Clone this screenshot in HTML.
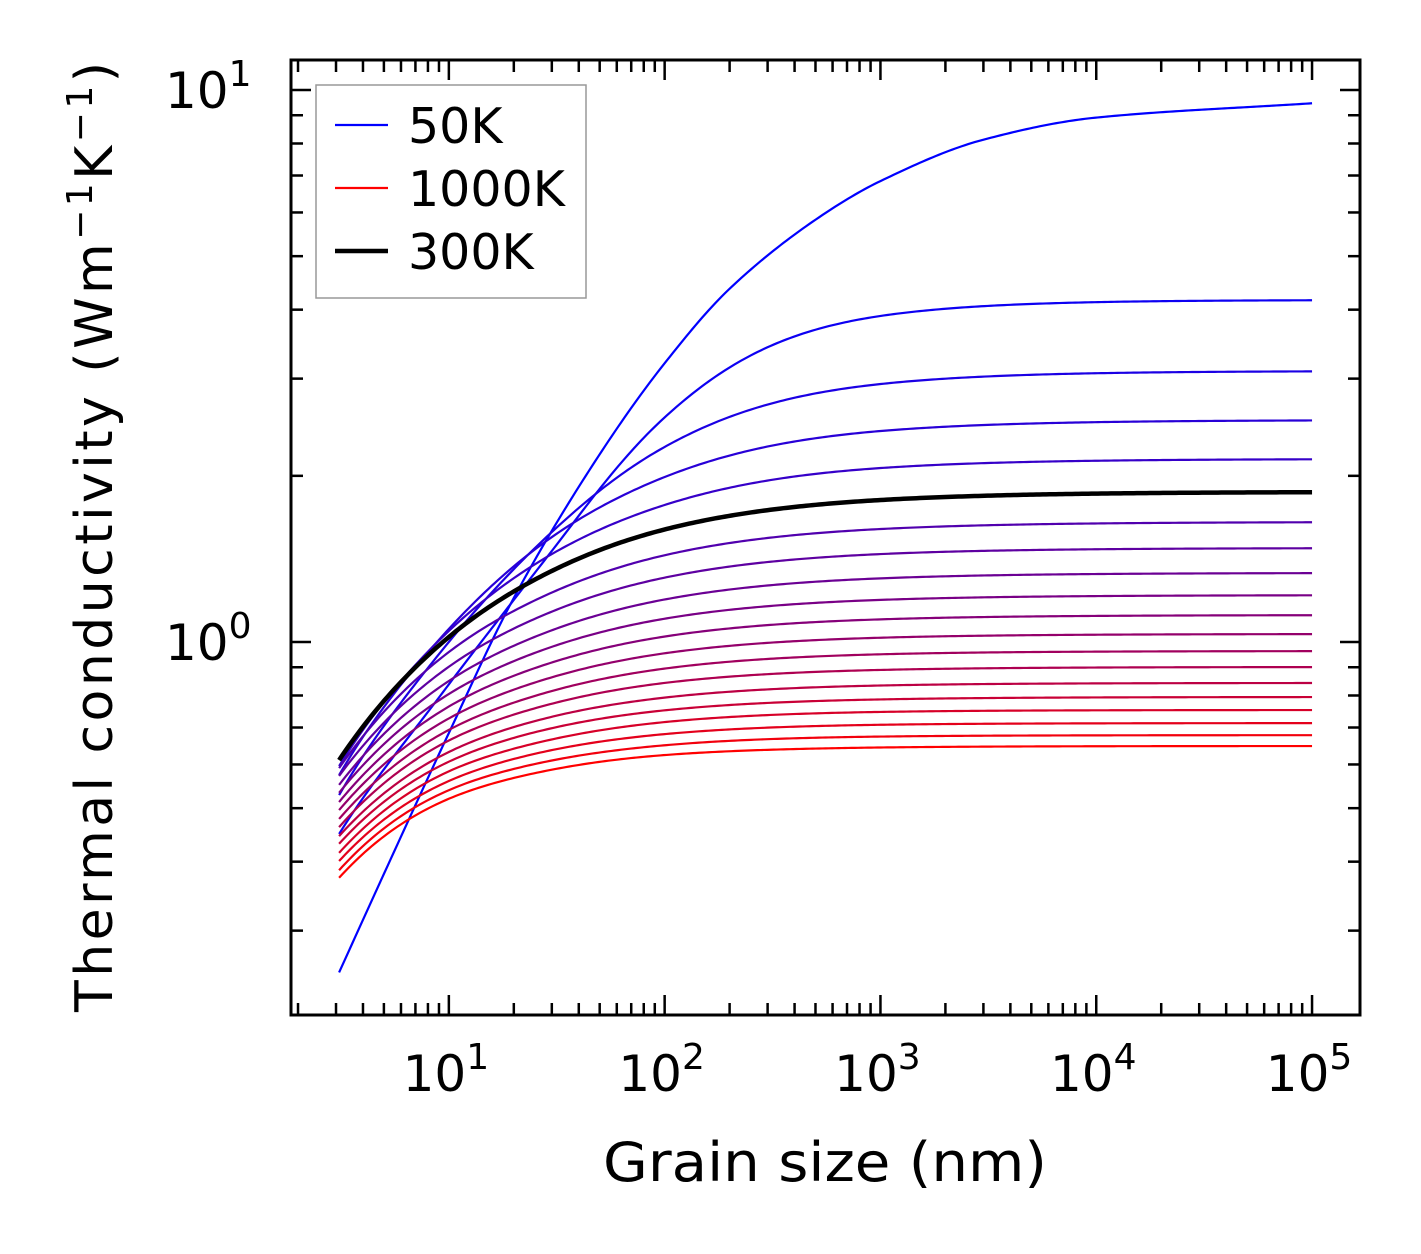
<!DOCTYPE html>
<html><head><meta charset="utf-8"><style>
html,body{margin:0;padding:0;background:#fff;}
svg{display:block;font-family:"DejaVu Sans","Liberation Sans",sans-serif;}
</style></head><body>
<svg id="chart" width="1421" height="1254" viewBox="0 0 1421 1254" xmlns="http://www.w3.org/2000/svg">
<g id="curves"></g>
<g id="axes"></g>
<g id="legend">
<rect x="316" y="85" width="270" height="213" fill="#fff" stroke="#999" stroke-width="1.5"/>
<g><line x1="335" y1="125" x2="388" y2="125" stroke="#0000ff" stroke-width="2.2"/><text x="408" y="143" font-size="49">50K</text></g>
<g><line x1="335" y1="188" x2="388" y2="188" stroke="#ff0000" stroke-width="2.2"/><text x="408" y="206" font-size="49">1000K</text></g>
<g><line x1="335" y1="251" x2="388" y2="251" stroke="#000" stroke-width="4.5"/><text x="408" y="269" font-size="49">300K</text></g>
</g>
<text x="825" y="1181" font-size="54" text-anchor="middle" textLength="444" lengthAdjust="spacingAndGlyphs">Grain size (nm)</text>
<text transform="translate(112,537) rotate(-90)" font-size="52" text-anchor="middle" textLength="950">Thermal conductivity (Wm<tspan dy="-20" font-size="36">−1</tspan><tspan dy="20">K</tspan><tspan dy="-20" font-size="36">−1</tspan><tspan dy="20">)</tspan></text>
</svg>
<script>
const temperatures = [100,150,200,250,300,350,400,450,500,550,600,650,700,750,800,850,900,950,1000];
const grainSizes = [3.1,10,30,100,1000,100000];
const kValues = [
 [0.449,0.838,1.462,2.552,3.896,4.165],
 [0.528,1.000,1.582,2.256,2.933,3.097],
 [0.574,1.056,1.549,1.990,2.411,2.524],
 [0.596,1.047,1.443,1.771,2.066,2.146],
 [0.611,1.021,1.345,1.599,1.808,1.871],
 [0.591,0.959,1.229,1.436,1.602,1.650],
 [0.572,0.902,1.135,1.308,1.443,1.480],
 [0.551,0.850,1.050,1.194,1.304,1.334],
 [0.533,0.805,0.980,1.102,1.192,1.216],
 [0.513,0.764,0.918,1.023,1.099,1.119],
 [0.496,0.727,0.863,0.954,1.018,1.034],
 [0.478,0.693,0.815,0.895,0.950,0.963],
 [0.462,0.663,0.773,0.843,0.890,0.901],
 [0.445,0.632,0.732,0.793,0.834,0.843],
 [0.431,0.607,0.698,0.752,0.787,0.795],
 [0.415,0.583,0.666,0.716,0.747,0.753],
 [0.401,0.560,0.637,0.681,0.708,0.713],
 [0.386,0.539,0.610,0.650,0.674,0.678],
 [0.374,0.520,0.587,0.624,0.644,0.648]
];
const grainSizes50K = [3.1,5,10,20,50,100,200,500,1000,3000,10000,100000];
const kValues50K = [0.252,0.380,0.684,1.202,2.188,3.199,4.365,5.821,6.839,8.128,8.913,9.462];
const xTickLabels = ["1","2","3","4","5"];
const yTickLabels = ["0","1"];

const NS="http://www.w3.org/2000/svg";
const X0=291,X1=1360,Y0=60,Y1=1015;
const xLogMin=1-(449-291)/216, xLogMax=5+(1360-1312)/216;
const yLogMin=-(1015-642)/552, yLogMax=1+(90-60)/552;
function xS(v){return X0+(Math.log10(v)-xLogMin)/(xLogMax-xLogMin)*(X1-X0);}
function yS(v){return Y1-(Math.log10(v)-yLogMin)/(yLogMax-yLogMin)*(Y1-Y0);}
function mk(tag,attrs,parent){const e=document.createElementNS(NS,tag);for(const k in attrs)e.setAttribute(k,attrs[k]);parent.appendChild(e);return e;}
function monotone(xs,ys){
 const n=xs.length,d=[],m=new Array(n);
 for(let i=0;i<n-1;i++)d.push((ys[i+1]-ys[i])/(xs[i+1]-xs[i]));
 m[0]=d[0];m[n-1]=d[n-2];
 for(let i=1;i<n-1;i++){m[i]=(d[i-1]*d[i]<=0)?0:(2/((1/d[i-1])+(1/d[i])));}
 return function(x){
  if(x>xs[n-1])return ys[n-1]+m[n-1]*(x-xs[n-1]);
  let i=0;while(i<n-2&&x>xs[i+1])i++;const h=xs[i+1]-xs[i],t=(x-xs[i])/h;
  const h00=2*t*t*t-3*t*t+1,h10=t*t*t-2*t*t+t,h01=-2*t*t*t+3*t*t,h11=t*t*t-t*t;
  return h00*ys[i]+h10*h*m[i]+h01*ys[i+1]+h11*h*m[i+1];};
}
// sparse series: interpolate log(deficit from plateau) vs log(grain size)
function curvePath(gs,ks){
 const n=gs.length,lK=Math.log10(ks[n-1]);
 const lx=[],ld=[];
 for(let i=0;i<n-1;i++){const d=lK-Math.log10(ks[i]);if(d>1e-6){lx.push(Math.log10(gs[i]));ld.push(Math.log10(d));}}
 const f=monotone(lx,ld);
 const a=Math.log10(gs[0]),b=Math.log10(gs[n-1]);
 let p="";const N=300;
 for(let j=0;j<=N;j++){const x=a+(b-a)*j/N;const y=lK-Math.pow(10,f(x));
  p+=(j?"L":"M")+xS(Math.pow(10,x)).toFixed(2)+","+yS(Math.pow(10,y)).toFixed(2);}
 return p;
}
// dense series: direct log-log monotone spline
function curvePathDirect(gs,ks){
 const lx=gs.map(Math.log10),ly=ks.map(Math.log10),f=monotone(lx,ly);
 const a=lx[0],b=lx[lx.length-1];let p="";const N=300;
 for(let j=0;j<=N;j++){const x=a+(b-a)*j/N;
  p+=(j?"L":"M")+xS(Math.pow(10,x)).toFixed(2)+","+yS(Math.pow(10,f(x))).toFixed(2);}
 return p;
}
function tColor(T){const f=(T-50)/950;return "rgb("+Math.round(255*f)+",0,"+Math.round(255*(1-f))+")";}
const cg=document.getElementById("curves");
const p50=mk("path",{d:curvePathDirect(grainSizes50K,kValues50K),fill:"none",stroke:tColor(50),"stroke-width":2.2},cg);


let blackIdx=-1;
temperatures.forEach((T,i)=>{
 if(T===300){blackIdx=i;return;}
 const p=mk("path",{d:curvePath(grainSizes,kValues[i]),fill:"none",stroke:tColor(T),"stroke-width":2.2},cg);
 
 
});
if(blackIdx>=0){
 const pb=mk("path",{d:curvePath(grainSizes,kValues[blackIdx]),fill:"none",stroke:"#000","stroke-width":4.5},cg);
 
 
}
const ag=document.getElementById("axes");
const frame=mk("rect",{x:X0,y:Y0,width:X1-X0,height:Y1-Y0,fill:"none",stroke:"#000","stroke-width":3},ag);


for(let e=0;e<=5;e++){for(let m=1;m<=9;m++){const v=m*Math.pow(10,e);const lv=Math.log10(v);
 if(lv<xLogMin||lv>xLogMax)continue;const x=xS(v),L=m===1?20:12;
 mk("line",{x1:x,y1:Y1,x2:x,y2:Y1-L,stroke:"#000","stroke-width":2.5},ag);
 mk("line",{x1:x,y1:Y0,x2:x,y2:Y0+L,stroke:"#000","stroke-width":2.5},ag);}}
xTickLabels.forEach(s=>{const x=xS(Math.pow(10,+s));
 const t=mk("text",{x:x-3,y:1091,"font-size":50,"text-anchor":"middle"},ag);
 t.textContent="10";const sp=mk("tspan",{dy:-22,"font-size":36},t);sp.textContent=s;
 
 });
for(let e=-1;e<=1;e++){for(let m=1;m<=9;m++){const v=m*Math.pow(10,e);const lv=Math.log10(v);
 if(lv<yLogMin||lv>yLogMax)continue;const y=yS(v),L=m===1?20:12;
 mk("line",{x1:X0,y1:y,x2:X0+L,y2:y,stroke:"#000","stroke-width":2.5},ag);
 mk("line",{x1:X1,y1:y,x2:X1-L,y2:y,stroke:"#000","stroke-width":2.5},ag);}}
yTickLabels.forEach(s=>{const y=yS(Math.pow(10,+s));
 const t=mk("text",{x:165,y:y+18,"font-size":50},ag);
 t.textContent="10";const sp=mk("tspan",{dy:-22,"font-size":36},t);sp.textContent=s;
 
 });
</script>
</body></html>
